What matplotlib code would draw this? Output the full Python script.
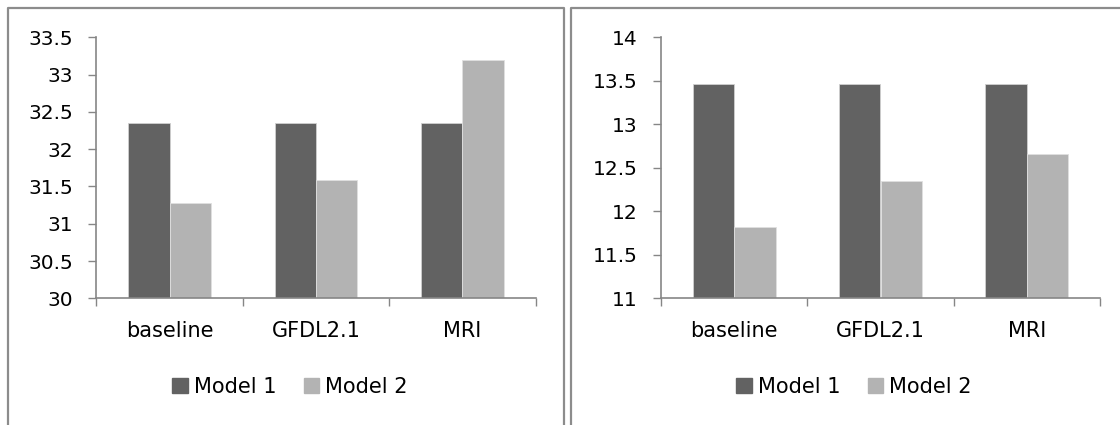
import numpy as np
import matplotlib
matplotlib.use("Agg")
import matplotlib.pyplot as plt
from matplotlib.patches import Patch
from matplotlib.lines import Line2D

# data
categories = ["baseline", "GFDL2.1", "MRI"]
series_names = ["Model 1", "Model 2"]
left_model1 = [32.35, 32.35, 32.35]
left_model2 = [31.28, 31.59, 33.19]
right_model1 = [13.46, 13.46, 13.46]
right_model2 = [11.82, 12.35, 12.66]
left_ticks = [30, 30.5, 31, 31.5, 32, 32.5, 33, 33.5]
left_tick_labels = ["30", "30.5", "31", "31.5", "32", "32.5", "33", "33.5"]
right_ticks = [11, 11.5, 12, 12.5, 13, 13.5, 14]
right_tick_labels = ["11", "11.5", "12", "12.5", "13", "13.5", "14"]

plt.rcParams['font.family'] = ['DejaVu Sans']
FS_TICK = 14.5
FS = 15
DARK = '#626262'
LIGHT = '#b3b3b3'
AXIS = '#868686'
W, H = 1120, 425

fig = plt.figure(figsize=(W / 100, H / 100), dpi=100)


def px_axes(x0, x1, ytop, ybot):
    return fig.add_axes([x0 / W, 1 - ybot / H, (x1 - x0) / W, (ybot - ytop) / H])


def draw_panel(ax, m1, m2, ticks, tick_labels, legend_x):
    x = np.arange(len(categories))
    bw = 0.283
    ax.bar(x - bw / 2, m1, bw, color=DARK, edgecolor='#d0d0d0', linewidth=0.6)
    ax.bar(x + bw / 2, m2, bw, color=LIGHT, edgecolor='#e0e0e0', linewidth=0.6)
    ax.set_xlim(-0.5, len(categories) - 0.5)
    ax.set_ylim(ticks[0], ticks[-1])
    ax.set_yticks(ticks)
    ax.set_yticklabels(tick_labels, fontsize=FS_TICK, color='black')
    ax.set_xticks(x)
    ax.set_xticklabels(categories, fontsize=FS, color='black')
    ax.set_xticks(np.arange(-0.5, len(categories)), minor=True)
    ax.tick_params(axis='x', which='major', length=0, pad=16)
    ax.tick_params(axis='x', which='minor', length=6, width=1, color=AXIS, direction='out')
    ax.tick_params(axis='y', length=6, width=1, color=AXIS, pad=11)
    for s in ['top', 'right']:
        ax.spines[s].set_visible(False)
    for s in ['left', 'bottom']:
        ax.spines[s].set_color(AXIS)
        ax.spines[s].set_linewidth(1.2)
    handles = [Patch(facecolor=DARK, edgecolor=DARK), Patch(facecolor=LIGHT, edgecolor=LIGHT)]
    fig.legend(handles, series_names, loc='center', bbox_to_anchor=(legend_x / W, 1 - 387 / H),
               ncol=2, frameon=False, fontsize=FS, handlelength=0.75, handleheight=0.75,
               handletextpad=0.3, columnspacing=1.3)


ax1 = px_axes(96.4, 535.7, 37.3, 298.3)
draw_panel(ax1, left_model1, left_model2, left_ticks, left_tick_labels, 290)

ax2 = px_axes(661, 1100, 37.3, 298.3)
draw_panel(ax2, right_model1, right_model2, right_ticks, right_tick_labels, 854)

# chart area borders
border = dict(color='#8c8c8c', linewidth=1.6, transform=None)
for xs, ys in [([7.5, 7.5, 564, 564], [H, 7.5, 7.5, H]),
               ([571, 571, W], [H, 7.5, 7.5])]:
    fig.add_artist(Line2D(np.array(xs), H - np.array(ys), **border))

fig.savefig("out.png", dpi=100)
